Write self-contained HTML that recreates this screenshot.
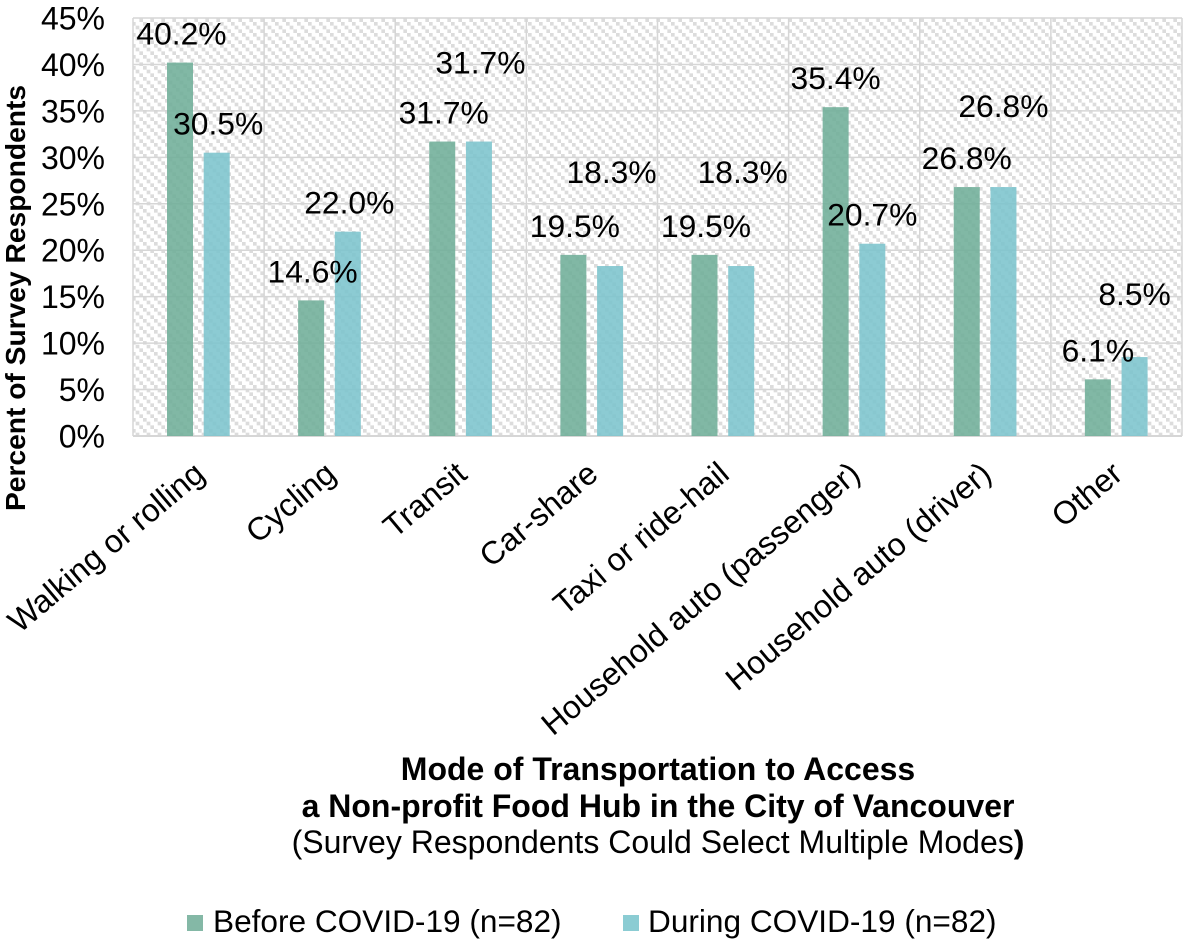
<!DOCTYPE html>
<html lang="en">
<head>
<meta charset="utf-8">
<title>Mode of Transportation to Access a Non-profit Food Hub</title>
<style>
html,body{margin:0;padding:0;background:#fff;width:1184px;height:940px;overflow:hidden}
svg{display:block}
text{font-family:"Liberation Sans",Arial,sans-serif;fill:#000}
</style>
</head>
<body>
<svg id="chart" xmlns="http://www.w3.org/2000/svg" width="1184" height="940" viewBox="0 0 1184 940">
  <defs>
    <pattern id="hatch" width="11" height="11" patternUnits="userSpaceOnUse">
      <rect width="11" height="11" fill="#fff"/>
      <rect x="0" y="0" width="3.67" height="3.67" fill="#dcdcdc"/>
      <rect x="3.67" y="3.67" width="3.67" height="3.67" fill="#dcdcdc"/>
      <rect x="7.34" y="7.34" width="3.66" height="3.66" fill="#dcdcdc"/>
    </pattern>
  </defs>
  <rect x="133" y="18" width="1049" height="418" fill="url(#hatch)"/>
  <g id="grid"></g>
  <g id="yticks"></g>
  <g id="bars"></g>
  <g id="labels"></g>
  <g id="xticks"></g>
  <text transform="translate(25,298) rotate(-90)" text-anchor="middle" font-size="28.2" font-weight="bold">Percent of Survey Respondents</text>
  <g>
    <text x="658" y="780" text-anchor="middle" font-size="32" font-weight="bold">Mode of Transportation to Access</text>
    <text x="658" y="817" text-anchor="middle" font-size="32" font-weight="bold">a Non-profit Food Hub in the City of Vancouver</text>
    <text x="658" y="853" text-anchor="middle" font-size="32">(Survey Respondents Could Select Multiple Modes<tspan font-weight="bold">)</tspan></text>
  </g>
  <g>
    <g>
      <rect x="187" y="915" width="16" height="16" fill="#84b8a6"/>
      <text x="213" y="932" font-size="31.6">Before COVID-19 (n=82)</text>
    </g>
    <g>
      <rect x="623" y="915" width="16" height="16" fill="#8bccd3"/>
      <text x="648" y="932" font-size="31.6">During COVID-19 (n=82)</text>
    </g>
  </g>
</svg>
<script>
const categories = ["Walking or rolling", "Cycling", "Transit", "Car-share", "Taxi or ride-hail", "Household auto (passenger)", "Household auto (driver)", "Other"];
const beforeValues = [40.2, 14.6, 31.7, 19.5, 19.5, 35.4, 26.8, 6.1];
const duringValues = [30.5, 22.0, 31.7, 18.3, 18.3, 20.7, 26.8, 8.5];
const yTickValues = [0, 5, 10, 15, 20, 25, 30, 35, 40, 45];

const NS = "http://www.w3.org/2000/svg";
const plotLeft = 133, plotRight = 1182, plotTop = 18, plotBottom = 436, yMax = 45;
const bandWidth = (plotRight - plotLeft) / categories.length;
const barWidth = 26;

function yScale(v) { return plotBottom - (v / yMax) * (plotBottom - plotTop); }
function xBand(i) { return plotLeft + bandWidth * i; }
function make(tag, attrs, parent) {
  const el = document.createElementNS(NS, tag);
  for (const k in attrs) el.setAttribute(k, attrs[k]);
  parent.appendChild(el);
  return el;
}
function slug(s) { return s.toLowerCase().replace(/[^a-z0-9]+/g, '-').replace(/-$/, ''); }

/* Manually dragged data labels in the source chart: extra lift above the usual spot */
function extraLift(seriesName, i) {
  if (seriesName !== 'during') return 0;
  if (i === 2) return 50;
  if (i === 3 || i === 4) return 65;
  if (i === 6) return 52;
  if (i === 7) return 34;
  return 0;
}

const grid = document.getElementById('grid');
yTickValues.forEach(function (t) {
  const line = make('line', {x1: plotLeft, x2: plotRight, y1: yScale(t), y2: yScale(t), stroke: '#d6d6d6', 'stroke-width': t === 0 ? 2 : 1.5}, grid);
  
  
});
for (let i = 0; i <= categories.length; i++) {
  const line = make('line', {x1: xBand(i), x2: xBand(i), y1: plotTop, y2: plotBottom, stroke: '#d6d6d6', 'stroke-width': 1.5}, grid);
  
  
}

const yticks = document.getElementById('yticks');
yTickValues.forEach(function (t) {
  const el = make('text', {x: 105, y: yScale(t) + 11.5, 'text-anchor': 'end', 'font-size': 32}, yticks);
  el.textContent = t + '%';
  
  
});

const barsG = document.getElementById('bars');
const labelsG = document.getElementById('labels');
const seriesList = [
  {name: 'before', values: beforeValues, color: '#6fae98', offset: 34},
  {name: 'during', values: duringValues, color: '#7cc4cd', offset: 70.7}
];
seriesList.forEach(function (s) {
  s.values.forEach(function (v, i) {
    const x = xBand(i) + s.offset;
    const y = yScale(v);
    const bar = make('rect', {x: x, y: y, width: barWidth, height: plotBottom - y, fill: s.color, 'fill-opacity': 0.88}, barsG);
    
    
    const nudge = i < 5 ? 1.5 : 0;
    const label = make('text', {x: x + barWidth / 2 + nudge, y: y - 18 - extraLift(s.name, i), 'text-anchor': 'middle', 'font-size': 31.8}, labelsG);
    label.textContent = v.toFixed(1) + '%';
    
    
  });
});

const xticks = document.getElementById('xticks');
categories.forEach(function (c, i) {
  const ax = xBand(i) + bandWidth / 2 + 8;
  const ay = 477;
  const el = make('text', {transform: 'translate(' + ax + ',' + ay + ') rotate(-40)', 'text-anchor': 'end', 'font-size': 32}, xticks);
  el.textContent = c;
  
  
});
</script>
</body>
</html>
